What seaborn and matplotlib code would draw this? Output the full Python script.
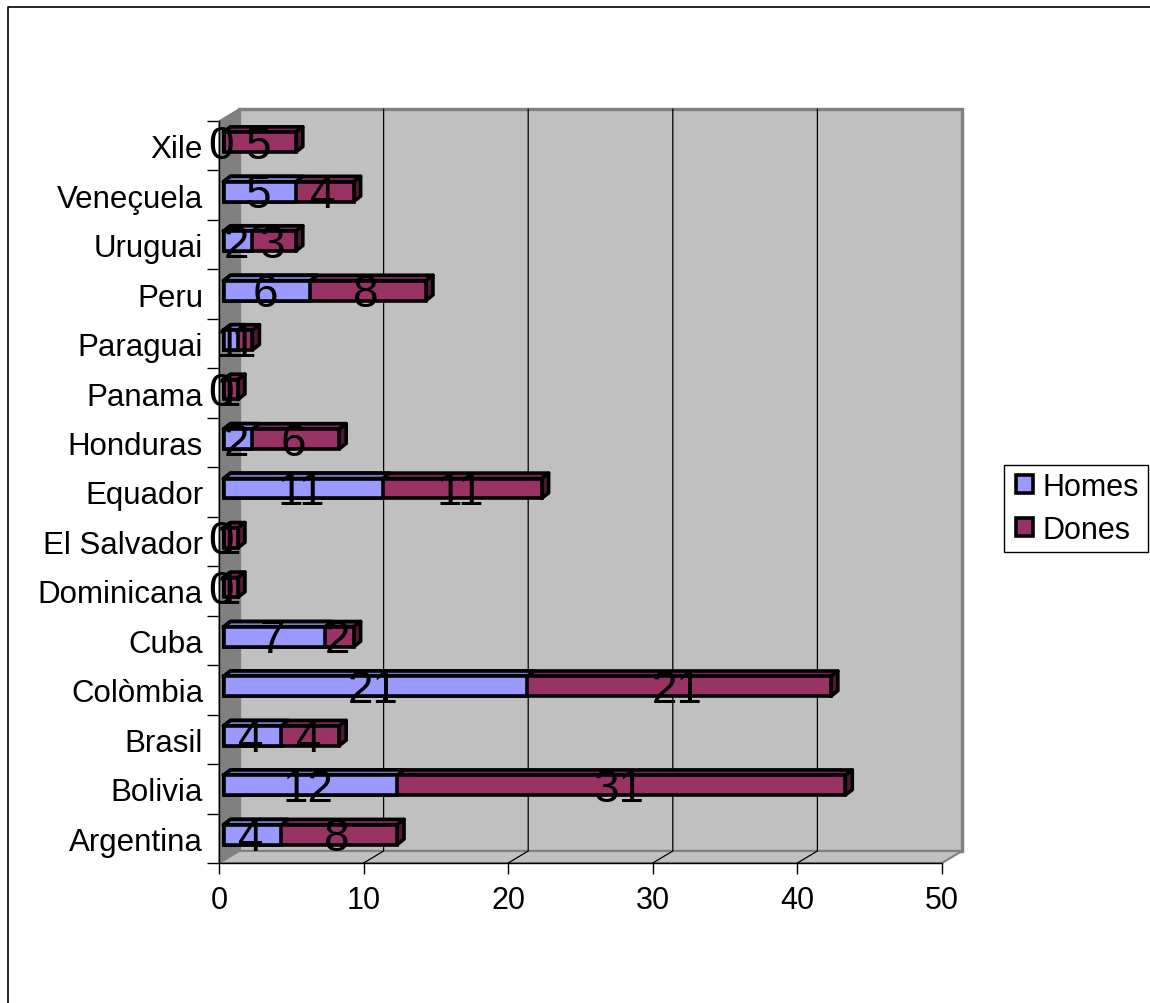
import seaborn as sns
import numpy as np
import matplotlib
matplotlib.use("Agg")
import matplotlib.pyplot as plt
from matplotlib.lines import Line2D
from matplotlib.patches import Polygon, Rectangle

countries = ["Argentina", "Bolivia", "Brasil", "Colòmbia", "Cuba", "Dominicana", "El Salvador",
             "Equador", "Honduras", "Panama", "Paraguai", "Peru", "Uruguai", "Veneçuela", "Xile"]
homes = [4, 12, 4, 21, 7, 0, 0, 11, 2, 0, 1, 6, 2, 5, 0]
dones = [8, 31, 4, 21, 2, 1, 1, 11, 6, 1, 1, 8, 3, 4, 5]
x_ticks = [0, 10, 20, 30, 40, 50]

BLUE = "#9999FF"
PLUM = "#993366"
WALL = "#C0C0C0"
SIDE = "#808080"

W, H = 1150, 1004
sns.set_style("white")
plt.rcParams["font.family"] = ["Liberation Sans", "DejaVu Sans"]

fig = plt.figure(figsize=(W / 100, H / 100), dpi=100)
# front plane of the fake 3D box, in pixels
L, R, T, B = 219, 942, 122, 864
ax = fig.add_axes([L / W, 1 - B / H, (R - L) / W, (B - T) / H])

totals = np.array(homes) + np.array(dones)
sns.barplot(x=totals, y=countries, color=PLUM, width=0.40, saturation=1, edgecolor="black",
            linewidth=2.6, label="Dones", ax=ax, zorder=4)
dones_bars = list(ax.patches)
sns.barplot(x=homes, y=countries, color=BLUE, width=0.40, saturation=1, edgecolor="black",
            linewidth=2.6, label="Homes", ax=ax, zorder=4)
homes_bars = list(ax.patches)[len(dones_bars):]

ax.set_xlim(0, 50)
ax.set_ylim(-0.5, 14.5)
px_x = 50 / (R - L)
px_y = 15 / (B - T)

# box walls, offset from the front plane
wx, wy = 20 * px_x, 12 * px_y
x0, x1, y0, y1 = 0, 50, -0.5, 14.5
ax.add_patch(Polygon([(x0 + wx, y0 + wy), (x1 + wx, y0 + wy), (x1 + wx, y1 + wy), (x0 + wx, y1 + wy)],
                     fc=WALL, ec=SIDE, lw=2.4, clip_on=False, zorder=1))
ax.add_patch(Polygon([(x0, y0), (x1, y0), (x1 + wx, y0 + wy), (x0 + wx, y0 + wy)],
                     fc=WALL, ec=SIDE, lw=1.5, clip_on=False, zorder=1))
ax.add_patch(Polygon([(x0, y0), (x0 + wx, y0 + wy), (x0 + wx, y1 + wy), (x0, y1)],
                     fc=SIDE, ec=SIDE, lw=1, clip_on=False, zorder=1.1))
for v in x_ticks[1:-1]:
    ax.plot([v, v + wx, v + wx], [y0, y0 + wy, y1 + wy], color="black", lw=0.9, clip_on=False, zorder=2)

# move bars to the middle of the depth and add their top and side faces
bx, by = 4.5 * px_x, 3.5 * px_y
dx, dy = 7 * px_x, 5.5 * px_y


def faces(bar, top, side=None):
    bar.set_x(bar.get_x() + bx)
    bar.set_y(bar.get_y() + by)
    bar.set_clip_on(False)
    a, b = bar.get_x(), bar.get_x() + bar.get_width()
    t = bar.get_y() + bar.get_height()
    ax.add_patch(Polygon([(a, t), (b, t), (b + dx, t + dy), (a + dx, t + dy)], fc=top, ec="black",
                         lw=2.6, joinstyle="round", clip_on=False, zorder=3))
    if side:
        s = bar.get_y()
        ax.add_patch(Polygon([(b, s), (b + dx, s + dy), (b + dx, t + dy), (b, t)], fc=side, ec="black",
                             lw=2.6, joinstyle="round", clip_on=False, zorder=3))


for bar in dones_bars:
    faces(bar, "#7A2952", "#4D1A33")
for bar in homes_bars:
    faces(bar, "#7A7ACC")

# value labels centred on each segment
lx, ly = 2.5 * px_x, 5 * px_y
for i in range(len(countries)):
    ypos = i + ly
    ax.text(lx + homes[i] / 2, ypos, str(homes[i]), fontsize=33, ha="center", va="center_baseline",
            color="black", clip_on=False, zorder=6)
    ax.text(lx + homes[i] + dones[i] / 2, ypos, str(dones[i]), fontsize=33, ha="center", va="center_baseline",
            color="black", clip_on=False, zorder=6)

sns.despine(ax=ax, top=True, right=True)
for s in ["left", "bottom"]:
    ax.spines[s].set_color("black")
    ax.spines[s].set_linewidth(1.0)
    ax.spines[s].set_zorder(2.5)
ax.set_xticks(x_ticks)
ax.set_yticks(np.arange(-0.5, 15, 1), minor=True)
ax.set_xlabel("")
ax.set_ylabel("")
ax.tick_params(axis="x", which="major", bottom=True, length=8, width=1, pad=7.5, labelsize=22, colors="black")
ax.tick_params(axis="y", which="major", left=False, length=0, pad=11.5, labelsize=22.5, labelcolor="black")
ax.tick_params(axis="y", which="minor", left=True, length=9, width=1, color="black")

# legend: own frame so the box size can be set exactly
fig.add_artist(Rectangle((1004 / W, 1 - 553 / H), 144 / W, 87 / H, transform=fig.transFigure,
                         fc="white", ec="black", lw=1, zorder=-1))
handles, labels = ax.get_legend_handles_labels()
order = [labels.index("Homes"), labels.index("Dones")]
leg = ax.legend([handles[i] for i in order], [labels[i] for i in order], loc="center left",
                bbox_to_anchor=(1016 / W, 1 - 509.5 / H), bbox_transform=fig.transFigure,
                fontsize=22, labelcolor="black", frameon=False,
                handlelength=0.55, handleheight=0.55, handletextpad=0.32, labelspacing=0.42,
                borderpad=0, borderaxespad=0)
leg.set_zorder(7)

# chart border: only top and left show in the picture
fig.add_artist(Line2D([7.5 / W, 7.5 / W, 1], [0, 1 - 7.5 / H, 1 - 7.5 / H], transform=fig.transFigure,
                      color="black", lw=1.2))

fig.savefig("out.png", dpi=100)
